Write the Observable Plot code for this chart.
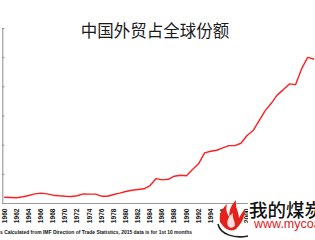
<!DOCTYPE html>
<html><head><meta charset="utf-8">
<script src="https://cdn.jsdelivr.net/npm/d3@7"></script>
<script src="https://cdn.jsdelivr.net/npm/@observablehq/plot@0.6"></script>
<style>
html,body{margin:0;padding:0;background:#fff;}
#wrap{position:relative;width:315px;height:240px;overflow:hidden;background:#fff;}
#chart{position:absolute;left:-38px;top:0;width:400px;height:240px;}
#chart svg{max-width:none !important;}
#title{position:absolute;left:0;width:310px;top:22px;text-align:center;font-family:"Noto Sans CJK SC",sans-serif;font-size:16.5px;line-height:16.5px;color:#1a1a1a;}
#caption{position:absolute;left:0;top:229px;font-family:"Liberation Sans",Arial,sans-serif;font-weight:bold;font-size:5.6px;line-height:6px;white-space:nowrap;color:#111;transform-origin:0 0;}
#logoText{position:absolute;left:248px;top:198px;width:80px;height:42px;background:#fff;}
#logoCn{position:absolute;left:1px;top:2px;font-family:"Noto Sans CJK SC",sans-serif;font-weight:500;font-size:18.5px;line-height:19px;color:#111;white-space:nowrap;}
#logoUrl{position:absolute;left:6px;top:20px;font-family:"Liberation Sans",Arial,sans-serif;font-size:12.5px;line-height:13px;color:#e0201f;white-space:nowrap;}
#flame{position:absolute;left:214px;top:196px;}
</style></head>
<body>
<div id="wrap">
  <div id="chart"></div>
  <div id="title"></div>
  <div id="caption"></div>
  <svg id="flame" width="40" height="44" viewBox="0 0 40 44">
    <path d="M9,30 C3,24 6,14 13,8 C11,15 14,19 16,22 C14,16 17,9 22,4 C21,12 25,16 25,22 C27,18 29,15 31,13 C31,20 28,27 22,33 C18,36 12,34 9,30 Z" fill="#e3221c"/>
    <path d="M14,30 C12,25 15,20 19,17 C18,22 21,25 21,29 C20,32 16,33 14,30 Z" fill="#fff" opacity="0.85"/>
    <path d="M4,28 C6,38 20,43 34,40" fill="none" stroke="#222" stroke-width="1.6"/>
  </svg>
  <div id="logoText"><div id="logoCn"></div><div id="logoUrl"></div></div>
</div>
<script>
const titleText = "中国外贸占全球份额";
const captionText = "s Calculated from IMF Direction of Trade Statistics, 2015 data is for 1st 10 months";
const logoCnText = "我的煤炭网";
const logoUrlText = "www.mycoal.cn";

const years = [1960,1961,1962,1963,1964,1965,1966,1967,1968,1969,
               1970,1971,1972,1973,1974,1975,1976,1977,1978,1979,
               1980,1981,1982,1983,1984,1985,1986,1987,1988,1989,
               1990,1991,1992,1993,1994,1995,1996,1997,1998,1999,
               2000,2001,2002,2003,2004,2005,2006,2007,2008,2009,
               2010,2011];
const shares = [0.43,0.41,0.39,0.46,0.55,0.66,0.71,0.66,0.57,0.53,
                0.50,0.48,0.53,0.66,0.64,0.64,0.50,0.50,0.62,0.71,
                0.82,0.91,0.96,1.01,1.23,1.71,1.62,1.66,1.87,1.94,
                1.90,2.33,2.72,3.47,3.58,3.65,3.82,3.97,3.97,4.13,
                4.66,5.00,5.68,6.37,6.87,7.45,7.81,8.20,8.15,9.23,
                10.02,9.91];
const yTicks = [0,2,4,6,8,10,12];
const xTicks = [1960,1962,1964,1966,1968,1970,1972,1974,1976,1978,
                1980,1982,1984,1986,1988,1990,1992,1994,1996,1998,
                2000,2002,2004,2006,2008,2010,2012,2014];

const data = years.map((y, i) => ({year: y, share: shares[i]}));

const chart = Plot.plot({
  width: 391.5, height: 240,
  marginLeft: 40.3, marginRight: 10, marginTop: 28, marginBottom: 37,
  x: {domain: [1959.7, 2016]},
  y: {domain: [0, 12]},
  style: {background: "transparent", fontFamily: "Liberation Sans, Arial, sans-serif", color: "#111", maxWidth: "none"},
  marks: [
    Plot.axisY({ticks: yTicks, tickSize: -2, tickPadding: 8, tickFormat: d => d + "%", stroke: "#8a8a8a", fontSize: 8}),
    Plot.axisX({ticks: xTicks, tickFormat: d => String(d), tickSize: 0, tickPadding: 5, tickRotate: -90, fontSize: 6.6, fontWeight: "bold"}),
    Plot.ruleX([1959.7], {stroke: "#8a8a8a", strokeWidth: 1}),
    Plot.ruleY([0], {stroke: "#9a9a9a", strokeWidth: 1}),
    Plot.lineY(data, {x: "year", y: "share", stroke: "#ff1f1f", strokeWidth: 1.4})
  ]
});
document.getElementById("chart").append(chart);
document.getElementById("title").textContent = titleText;
const cap = document.getElementById("caption");
cap.textContent = captionText;
const w = cap.getBoundingClientRect().width;
cap.style.transform = `scaleX(${192 / w})`;
document.getElementById("logoCn").textContent = logoCnText;
document.getElementById("logoUrl").textContent = logoUrlText;
</script>
</body></html>
